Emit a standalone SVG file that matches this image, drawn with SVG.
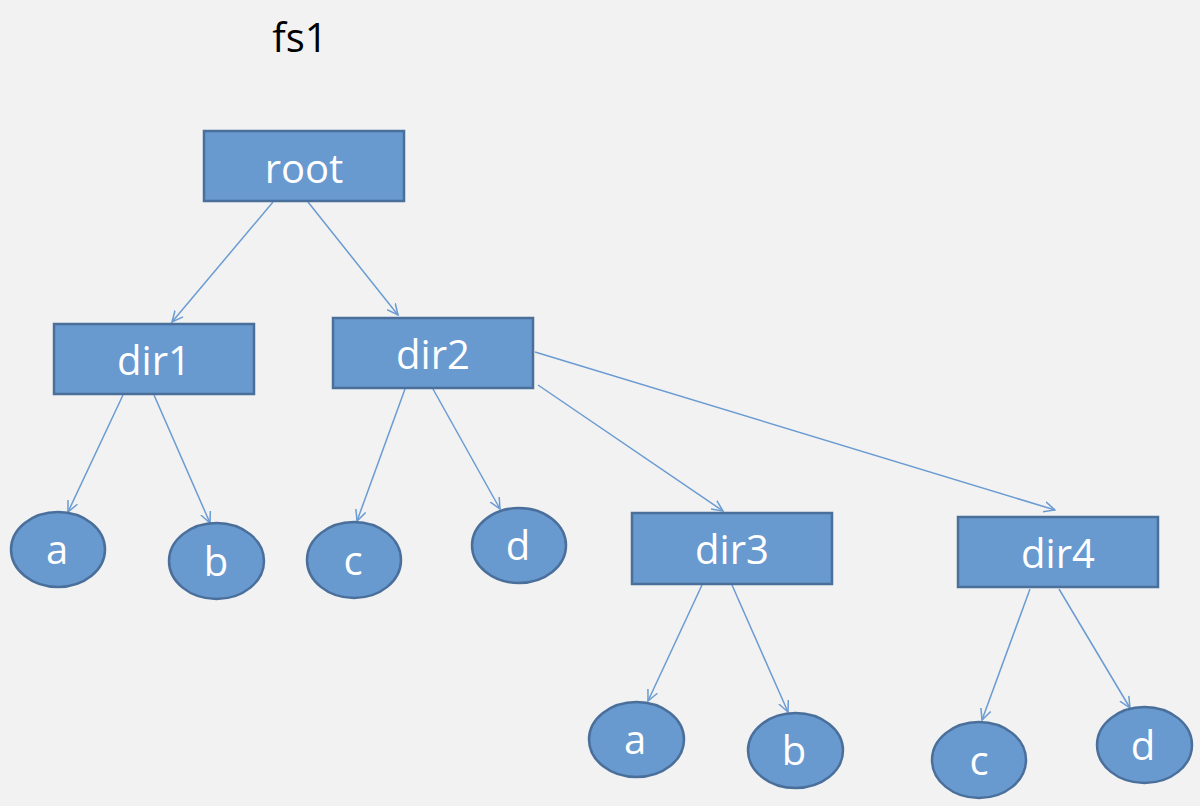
<svg xmlns="http://www.w3.org/2000/svg" width="1200" height="806" viewBox="0 0 1200 806">
<style>
.box{fill:#6899cf;stroke:#4a6f9b;stroke-width:2.5}
.lbl{fill:#ffffff;font-family:"Open Sans","Noto Sans","Liberation Sans",sans-serif;font-size:40px;text-anchor:middle}
.ttl{fill:#000000;font-family:"Open Sans","Noto Sans","Liberation Sans",sans-serif;font-size:40px;text-anchor:middle}
.edge{fill:none;stroke:#6a9bd2;stroke-width:1.5}
</style>
<defs>
<marker id="arr" viewBox="0 0 12 12" refX="11" refY="6" markerWidth="12" markerHeight="12" markerUnits="userSpaceOnUse" orient="auto">
<path d="M0,0.8 L11,6 L0,11.2" fill="none" stroke="#6a9bd2" stroke-width="1.5"/>
</marker>
</defs>
<rect width="1200" height="806" fill="#f2f2f2"/>
<text class="ttl" x="300" y="52">fs1</text>
<g id="connectors">
<line class="edge" x1="273" y1="202" x2="172" y2="322" marker-end="url(#arr)"/>
<line class="edge" x1="308" y1="202" x2="398" y2="315" marker-end="url(#arr)"/>
<line class="edge" x1="123" y1="395" x2="68" y2="512" marker-end="url(#arr)"/>
<line class="edge" x1="154" y1="395" x2="210" y2="523" marker-end="url(#arr)"/>
<line class="edge" x1="405" y1="389" x2="357" y2="521" marker-end="url(#arr)"/>
<line class="edge" x1="433" y1="389" x2="500" y2="509" marker-end="url(#arr)"/>
<line class="edge" x1="538" y1="385" x2="723" y2="511" marker-end="url(#arr)"/>
<line class="edge" x1="535" y1="352" x2="1055" y2="510" marker-end="url(#arr)"/>
<line class="edge" x1="702" y1="585" x2="648" y2="701" marker-end="url(#arr)"/>
<line class="edge" x1="732" y1="585" x2="788" y2="712" marker-end="url(#arr)"/>
<line class="edge" x1="1030" y1="589" x2="982" y2="720" marker-end="url(#arr)"/>
<line class="edge" x1="1059" y1="589" x2="1130" y2="708" marker-end="url(#arr)"/>
</g>
<g id="root"><rect class="box" x="204" y="131" width="200" height="70"/><text class="lbl" x="304" y="183">root</text></g>
<g id="dir1"><rect class="box" x="54" y="324" width="200" height="70"/><text class="lbl" x="154" y="375">dir1</text></g>
<g id="dir2"><rect class="box" x="333" y="318" width="200" height="70"/><text class="lbl" x="433" y="369">dir2</text></g>
<g id="dir3"><rect class="box" x="632" y="513" width="200" height="71"/><text class="lbl" x="732" y="564">dir3</text></g>
<g id="dir4"><rect class="box" x="958" y="517" width="200" height="70"/><text class="lbl" x="1058" y="568">dir4</text></g>
<g id="a1"><ellipse class="box" cx="58" cy="549.5" rx="47" ry="37.5"/><text class="lbl" x="57" y="564">a</text></g>
<g id="b1"><ellipse class="box" cx="216.5" cy="561" rx="47.5" ry="38"/><text class="lbl" x="216" y="576">b</text></g>
<g id="c2"><ellipse class="box" cx="354" cy="560" rx="47" ry="38"/><text class="lbl" x="353" y="575">c</text></g>
<g id="d2"><ellipse class="box" cx="519" cy="545.5" rx="47" ry="37.5"/><text class="lbl" x="518" y="560">d</text></g>
<g id="a3"><ellipse class="box" cx="636.5" cy="739.5" rx="47.5" ry="37.5"/><text class="lbl" x="635" y="754">a</text></g>
<g id="b3"><ellipse class="box" cx="795.5" cy="750.5" rx="47.5" ry="37.5"/><text class="lbl" x="794" y="765">b</text></g>
<g id="c4"><ellipse class="box" cx="979" cy="760" rx="47" ry="38"/><text class="lbl" x="979" y="775">c</text></g>
<g id="d4"><ellipse class="box" cx="1144.5" cy="745" rx="47.5" ry="38"/><text class="lbl" x="1143" y="760">d</text></g>
</svg>
